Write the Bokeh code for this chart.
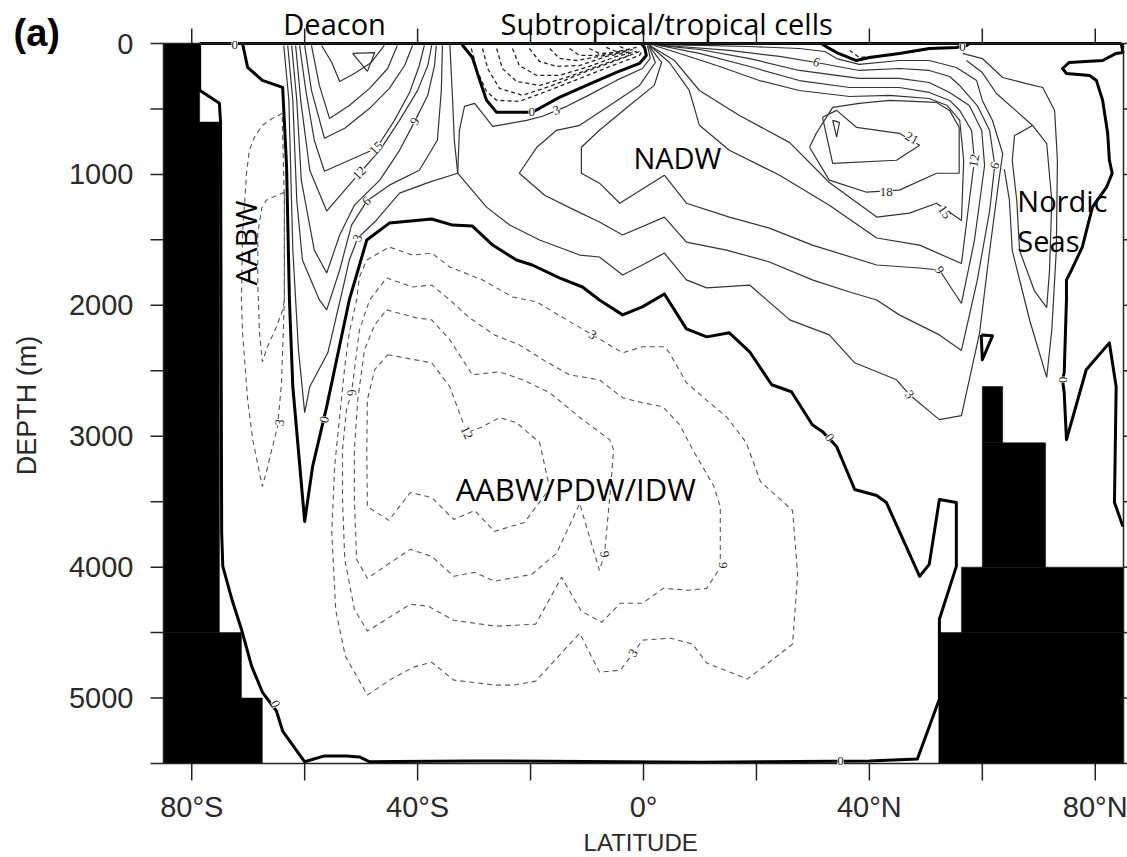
from bokeh.plotting import figure
from bokeh.models import Range1d, ColumnDataSource, LabelSet
from bokeh.core.properties import value
from bokeh.embed import file_html
from bokeh.resources import INLINE

# ---------------- data (latitude in degrees, depth in m) ----------------
xtick_values = [-80, -40, 0, 40, 80]
xtick_minor = [-60, -20, 20, 60]
xtick_labels = ["80°S", "40°S", "0°", "40°N", "80°N"]
ytick_values = [0, 1000, 2000, 3000, 4000, 5000]
ytick_minor = [500, 1500, 2500, 3500, 4500, 5500]
ytick_labels = ["0", "1000", "2000", "3000", "4000", "5000"]

# land (topography) blocks
land_left = [-85, -85, -85, -85, 60.0, 60.0, 56.3, 52.3]
land_right = [-78.6, -75.1, -71.2, -67.5, 63.6, 71.2, 85, 85]
land_top = [0, 600, 4500, 5000, 2620, 3050, 4000, 4500]
land_bottom = [600, 4500, 5000, 5500, 3050, 4000, 4500, 5500]

# zero streamlines
zero_main_lat = [-71.0, -70.1, -67.5, -63.9, -63.2, -62.7, -62.1, -60.0, -58.6, -56.1, -52.1, -49.0, -45.0,
                 -37.5, -33.8, -30.3, -26.7, -22.5, -19.7, -14.9, -10.8, -7.8, -3.7, -0.2, 3.7, 7.6, 11.2,
                 15.2, 18.8, 22.7, 26.2, 29.9, 31.7, 34.2, 37.4, 41.3, 43.0, 48.9, 50.6, 52.4, 55.4, 55.4,
                 52.4, 52.4, 48.5, 40.0, 10.0, -30.0, -44.0, -48.5, -50.3, -52.6, -56.5, -60.0, -63.9,
                 -65.0, -67.5, -69.4, -71.2, -72.9, -74.5, -74.7, -74.9, -75.1, -78.6, -78.6]
zero_main_depth = [0, 183, 282, 335, 945, 1959, 2622, 3651, 3232, 2774, 1959, 1501, 1372, 1341, 1387, 1395,
                   1540, 1654, 1692, 1791, 1860, 1959, 2073, 2012, 1913, 2180, 2241, 2210, 2355, 2607, 2660,
                   2912, 2965, 3079, 3407, 3453, 3506, 4070, 3979, 3483, 3506, 3994, 4398, 5008, 5465, 5480,
                   5490, 5480, 5485, 5487, 5450, 5442, 5442, 5487, 5252, 5099, 4954, 4756, 4474, 4245, 3994,
                   3735, 602, 457, 358, 0]
zero_stc_lat = [-32.2, -32.0, -30.3, -29.0, -27.8, -26.0, -22.0, -19.8, -18.4, -14.9, -10.1, -4.8, -0.7, 0.5, 0.2, -0.4]
zero_stc_depth = [0, 15, 107, 282, 434, 526, 526, 526, 495, 412, 320, 221, 152, 91, 30, 0]
zero_ntc_lat = [31.5, 32.6, 34.2, 37.7, 40.0, 45.3, 50.6, 55.4, 57.2, 57.7]
zero_ntc_depth = [0, 30, 69, 130, 107, 76, 38, 30, 15, 0]
zero_nordic_lat = [84.6, 84.9, 83.7, 81.3, 75.4, 74.2, 74.9, 79.0, 80.2, 81.3, 82.2, 82.5, 83.0, 82.0, 79.5,
                   77.7, 75.8, 74.9, 74.9, 74.5, 74.2, 74.5, 74.9, 78.4, 82.5, 83.7, 83.4, 84.9]
zero_nordic_depth = [0, 69, 76, 130, 145, 191, 229, 244, 282, 434, 686, 892, 991, 1098, 1250, 1555, 1730, 1806,
                     1959, 2515, 2569, 2668, 3026, 2492, 2287, 2622, 3506, 3689]
zero_tri_lat = [59.8, 61.8, 60.0, 59.8]
zero_tri_depth = [2226, 2233, 2416, 2226]
zero_surf_lat = [-78.6, 84.6]
zero_surf_depth = [0, 0]

# positive streamlines (Sv): Deacon cell, levels 3..27
deacon_lat = [
    [-63.7, -62.8, -62.1, -61.1, -60.0, -59.1, -55.9, -53.3, -52.1, -50.6, -47.6, -43.2, -37.9, -32.9, -33.5, -33.8, -34.3],
    [-63.0, -62.1, -61.4, -60.4, -57.4, -56.1, -53.8, -51.7, -49.0, -45.0, -39.7, -36.5, -35.8, -35.6],
    [-62.3, -61.4, -60.6, -58.3, -56.1, -53.8, -51.2, -46.7, -43.2, -40.5, -38.2, -37.0, -36.7],
    [-61.6, -60.7, -59.1, -56.1, -52.9, -50.3, -46.7, -43.2, -40.0, -38.2, -37.5],
    [-60.9, -59.8, -58.3, -56.5, -52.9, -47.3, -44.1, -41.4, -39.7, -38.8],
    [-60.0, -58.8, -56.5, -52.9, -48.5, -45.0, -42.3, -40.9],
    [-58.8, -57.4, -55.6, -52.1, -48.5, -45.3, -43.6],
    [-57.0, -55.2, -53.8, -51.2, -48.2, -45.9],
    [-51.5, -47.6, -48.9, -51.5],
]
deacon_depth = [
    [15, 434, 1578, 2340, 2820, 2622, 2363, 1883, 1654, 1486, 1364, 1143, 1059, 991, 739, 434, 0],
    [15, 434, 1197, 1654, 1959, 2035, 1730, 1387, 1204, 1082, 968, 739, 358, 15],
    [15, 434, 1044, 1578, 1753, 1463, 1235, 1044, 816, 595, 396, 168, 15],
    [15, 434, 968, 1280, 1120, 991, 816, 587, 358, 168, 15],
    [15, 358, 739, 976, 907, 800, 587, 373, 168, 15],
    [15, 358, 724, 648, 495, 343, 168, 15],
    [15, 320, 572, 473, 343, 191, 15],
    [15, 145, 290, 229, 145, 15],
    [76, 69, 213, 76],
]

# positive streamlines: NADW cell, levels 3, 6, 9, 12, 15 (from the equatorial surface), 18, 21, 24 closed
nadw_lat = [
    [0.7, 1.2, -0.2, -4.8, -10.1, -13.6, -17.9, -20.7, -26.7, -29.9, -31.7, -32.6, -32.9, -27.8, -23.7, -18.4,
     -11.3, -7.8, -3.7, -0.2, 3.7, 7.6, 11.2, 18.8, 25.9, 32.9, 37.4, 44.8, 47.1, 52.4,
     56.3, 59.5, 61.3, 62.7, 63.6, 61.8, 60.0, 59.0, 55.4, 50.6, 45.3, 38.2, 34.2, 32.1, 27.6, 18.8, 9.9, 2.8],
    [0.9, 2.1, -0.7, -6.0, -11.3, -15.4, -18.9, -22.0, -17.5, -12.2, -7.8, -3.7, 3.7, 7.6, 14.7, 22.3, 29.9,
     36.5, 41.3, 45.3, 52.4,
     56.3, 59.1, 61.3, 62.2, 61.3, 59.1, 56.0, 54.2, 50.6, 45.3, 38.2, 30.6, 24.1, 15.2, 6.4, 1.1],
    [0.9, 3.2, 1.9, -2.5, -7.8, -11.0, -11.0, -7.8, -4.2, 3.7, 7.6, 15.2, 22.3, 29.9, 41.3, 48.9, 52.4,
     56.3, 58.6, 60.4, 59.9, 57.7, 54.2, 50.6, 45.3, 38.2, 27.6, 18.8, 9.9, 2.8],
    [1.1, 4.6, 8.1, 9.9, 15.2, 24.1, 32.9, 41.3, 48.9,
     56.3, 57.7, 58.6, 58.1, 56.0, 54.2, 50.6, 45.3, 36.5, 27.6, 18.8, 9.9, 2.8],
    [1.1, 5.5, 9.9, 17.0, 25.9, 32.9, 41.3, 47.1, 51.9,
     56.3, 56.7, 56.0, 53.8, 50.6, 43.6, 36.5, 27.6, 20.5, 13.5, 6.4, 1.9],
    [29.4, 32.9, 39.5, 45.3, 51.9, 55.9, 55.9, 54.2, 51.9, 43.6, 38.2, 33.5, 30.6, 29.4],
    [31.7, 33.5, 44.8, 48.9, 45.3, 37.7, 34.2, 31.7],
    [33.5, 34.2, 34.7, 33.5],
]
nadw_depth = [
    [15, 114, 191, 282, 404, 480, 556, 587, 633, 457, 480, 663, 991, 1250, 1387, 1501, 1616, 1631, 1768, 1692,
     1601, 1806, 1867, 1845, 2111, 2226, 2439, 2569, 2683, 2873,
     2842, 2215, 1581, 1123, 840, 588, 435, 283, 183, 130, 130, 160, 115, 61, 38, 23, 15, 8],
    [15, 145, 320, 473, 625, 663, 793, 991, 1159, 1273, 1364, 1463, 1326, 1517, 1578, 1669, 1806, 1898, 1959,
     2073, 2226,
     2345, 1810, 1276, 932, 665, 474, 321, 252, 206, 191, 206, 145, 99, 53, 23, 8],
    [15, 145, 320, 473, 663, 793, 991, 1067, 1220, 1006, 1220, 1326, 1410, 1540, 1692, 1715, 1730,
     1986, 1505, 932, 665, 474, 374, 298, 267, 267, 206, 115, 46, 15],
    [15, 145, 358, 625, 816, 1006, 1235, 1486, 1540,
     1681, 1199, 894, 665, 512, 435, 374, 336, 336, 283, 176, 76, 15],
    [15, 130, 359, 550, 757, 1062, 1326, 1296, 1220,
     1352, 894, 588, 474, 420, 397, 405, 359, 283, 176, 76, 15],
    [793, 1044, 1136, 1120, 991, 991, 640, 511, 450, 434, 457, 488, 686, 793],
    [564, 915, 892, 777, 686, 640, 511, 564],
    [587, 716, 602, 587],
]

# Nordic Seas positive lines
nordic_lat = [
    [56.5, 60.0, 63.6, 67.8, 70.7, 72.8, 73.3, 73.1, 72.3, 71.4, 68.4, 65.3, 64.8, 63.9],
    [57.2, 60.0, 62.5, 68.9, 71.4, 72.3, 71.9, 71.4, 69.2, 66.6, 66.1, 65.3, 65.7, 68.9],
]
nordic_depth = [
    [76, 115, 260, 306, 336, 512, 894, 1581, 2192, 2551, 2116, 1581, 1199, 960],
    [130, 222, 382, 626, 764, 1199, 1734, 2017, 1887, 1581, 1199, 894, 703, 626],
]

# negative streamlines: subtropical cell arcs (dashed)
stc_lat = [
    [-30.5, -29.4, -27.8, -26.0, -22.0, -17.2, -11.3, -5.5, -0.7, -0.2],
    [-28.5, -27.6, -25.5, -21.4, -16.1, -10.1, -4.8, -0.7],
    [-26.0, -25.0, -22.5, -18.4, -13.1, -7.8, -2.5],
    [-23.2, -22.0, -18.9, -14.9, -9.6, -4.8, -1.2],
    [-20.2, -18.4, -15.4, -11.3, -6.6, -1.9],
    [-16.6, -14.9, -11.9, -7.8, -3.0],
    [-13.1, -11.3, -8.3, -4.2],
    [-9.6, -7.8, -4.8, -1.9],
    [-6.6, -4.8, -2.5],
    [-4.2, -3.0, -1.2],
]
stc_depth = [
    [38, 213, 366, 434, 442, 366, 267, 168, 91, 53],
    [38, 191, 343, 396, 320, 213, 130, 61],
    [38, 191, 290, 320, 252, 168, 91],
    [38, 168, 244, 244, 175, 99, 61],
    [38, 137, 175, 168, 99, 61],
    [38, 114, 130, 99, 61],
    [38, 91, 91, 61],
    [38, 76, 69, 46],
    [30, 61, 46],
    [23, 46, 30],
]
ntc_lat = [[36.5, 38.2, 42.3, 49.4, 51.9]]
ntc_depth = [[53, 107, 91, 53, 30]]

# negative streamlines: Antarctic bottom water near the shelf
aabw_lat = [
    [-64.0, -65.7, -67.5, -68.9, -69.8, -70.3, -70.6, -71.0, -71.2, -71.0, -70.1, -69.2, -67.5, -66.8, -65.7,
     -64.8, -64.1, -63.9, -63.6, -63.6, -64.0],
    [-63.6, -66.8, -67.6, -68.3, -68.3, -68.0, -67.5, -66.6, -65.0, -63.9, -63.6, -63.6],
]
aabw_depth = [
    [534, 572, 625, 716, 816, 991, 1197, 1448, 1959, 2210, 2721, 3026, 3384, 3277, 3079, 2927, 2591, 2340, 1959,
     1197, 534],
    [1136, 1197, 1258, 1448, 1829, 2210, 2431, 2317, 2165, 2035, 1959, 1136],
]

# negative streamlines: deep AABW/PDW/IDW cell (-3, -6, -9, -12)
deep_lat = [
    [-49.0, -45.0, -40.9, -37.5, -34.3, -28.5, -23.2, -18.9, -13.6, -9.0, -3.7, -0.2, 3.7, 4.6, 7.6, 11.7,
     14.7, 18.2, 20.7, 26.4, 27.3, 26.4, 18.4, 11.2, 8.7, 4.8, -0.2, -1.8, -4.1, -7.8, -11.3, -19.1, -23.0,
     -26.2, -33.6, -37.5, -40.7, -44.4, -48.9, -52.8, -54.5, -55.2, -54.7, -53.8, -52.9, -52.1, -50.8, -50.3,
     -49.0],
    [-45.5, -40.9, -37.5, -34.3, -30.8, -26.4, -22.0, -17.2, -13.1, -7.8, -3.7, -0.2, 3.4, 6.4, 8.7, 12.4,
     13.6, 13.6, 11.2, 8.0, 3.5, -0.2, -4.1, -7.4, -11.0, -14.5, -19.1, -26.2, -33.6, -38.1, -41.3, -48.9,
     -51.2, -52.9, -53.3, -53.3, -52.6, -51.7, -50.3, -48.5, -45.5],
    [-45.5, -40.2, -37.5, -34.3, -30.3, -25.5, -21.4, -16.6, -10.8, -6.0, -5.3, -5.7, -6.9, -7.8, -11.3,
     -15.4, -19.8, -26.4, -29.9, -33.6, -37.5, -41.3, -48.9, -50.8, -51.2, -51.2, -50.6, -49.4, -47.6, -45.5],
    [-45.3, -37.5, -34.3, -31.3, -28.5, -25.5, -22.5, -18.4, -16.6, -21.1, -26.4, -29.9, -33.6, -37.5, -41.3,
     -45.1, -48.9, -49.0, -48.9, -47.6, -45.3],
]
deep_depth = [
    [1654, 1555, 1616, 1601, 1707, 1806, 1936, 1974, 2111, 2226, 2363, 2317, 2317, 2363, 2591, 2744, 2851,
     3049, 3346, 3567, 4055, 4588, 4855, 4733, 4588, 4543, 4558, 4657, 4787, 4802, 4505, 4871, 4901, 4901,
     4863, 4726, 4764, 4848, 4977, 4680, 4329, 3735, 3232, 2851, 2469, 2210, 1959, 1783, 1654],
    [1791, 1860, 1845, 1959, 2096, 2226, 2302, 2431, 2531, 2569, 2706, 2744, 2774, 2912, 3102, 3377, 3537,
     4002, 4162, 4177, 4162, 4276, 4276, 4421, 4337, 4078, 4436, 4451, 4406, 4299, 4283, 4489, 4322, 3941,
     3483, 3102, 2797, 2668, 2187, 1959, 1791],
    [2035, 2096, 2111, 2264, 2531, 2508, 2569, 2668, 2873, 3026, 3102, 3331, 3902, 4025, 3514, 3895, 4055,
     4108, 4040, 4070, 3918, 3864, 4085, 3941, 3483, 3102, 2721, 2340, 2149, 2035],
    [2378, 2439, 2622, 2973, 2927, 2858, 2896, 3049, 3399, 3659, 3727, 3567, 3636, 3468, 3430, 3643, 3537,
     3102, 2721, 2492, 2378],
]

# contour labels
clab_lat = [-72.4, -19.8, -15.4, -50.6, -49.0, -50.3, -47.3, -40.5, -56.5, -64.4, -51.7, -9.0, -31.3, -6.9,
            14.0, -1.8, -65.2, 34.9, 32.9, 47.1, 52.4, 53.3, 43.0, 47.5, 58.6, 62.2, 30.6, 74.2, 56.5]
clab_depth = [15, 526, 511, 1486, 1204, 991, 800, 595, 2873, 2896, 2668, 2226, 2973, 3902,
              3986, 4657, 5045, 5480, 3010, 2683, 1730, 1288, 1136, 724, 894, 932, 145, 2569, 30]
clab_text = ["0", "0", "3", "3", "6", "12", "15", "9", "0", "3", "6", "3", "12", "9",
             "9", "3", "0", "0", "0", "3", "9", "15", "18", "21", "12", "6", "6", "0", "0"]
clab_angle = [0, 0, 20, 65, 40, 45, 45, 60, 75, 80, -85, -30, -65, -80,
              -90, 55, -65, 0, -55, -50, -60, -55, 0, -30, 80, 70, -20, 90, 0]

# region annotations
ann_text = ["NADW", "Nordic", "Seas", "Deacon", "Subtropical/tropical cells"]
ann_lat = [6.0, 66.2, 66.2, -54.7, 4.1]
ann_depth = [871, 1199, 1505, -153, -153]
ann_align = ["center", "left", "left", "center", "center"]

# ---------------- figure ----------------
PX_X = 170.0 / 960.0      # degrees per screen pixel
PX_Y = 5500.0 / 720.0     # metres per screen pixel

p = figure(width=1127, height=857,
           x_range=Range1d(-85 - 163 * PX_X, 85 + 4 * PX_X),
           y_range=Range1d(5500 + 94 * PX_Y, -43 * PX_Y),
           x_axis_type=None, y_axis_type=None, title_location=None,
           min_border=0, min_border_left=0, min_border_right=0, min_border_top=0, min_border_bottom=0,
           output_backend="svg", toolbar_location=None)
p.background_fill_color = "white"
p.border_fill_color = "white"
p.outline_line_color = None

AX = "#222222"
FONT = "Liberation Sans"

# land
p.quad(left=land_left, right=land_right, top=land_top, bottom=land_bottom,
       fill_color="black", line_color="black", line_width=0.5)

# negative (dashed)
p.multi_line(xs=stc_lat, ys=stc_depth, line_color="#222222", line_width=1.3, line_dash="4 3")
p.multi_line(xs=ntc_lat, ys=ntc_depth, line_color="#222222", line_width=1.3, line_dash="4 3")
p.multi_line(xs=aabw_lat, ys=aabw_depth, line_color="#555555", line_width=1.1, line_dash="5 4")
p.multi_line(xs=deep_lat, ys=deep_depth, line_color="#555555", line_width=1.1, line_dash="5 4")

# positive (solid thin)
p.multi_line(xs=deacon_lat, ys=deacon_depth, line_color="#333333", line_width=1.2)
p.multi_line(xs=nadw_lat, ys=nadw_depth, line_color="#333333", line_width=1.2)
p.multi_line(xs=nordic_lat, ys=nordic_depth, line_color="#333333", line_width=1.2)

# zero (thick)
p.multi_line(xs=[zero_main_lat, zero_stc_lat, zero_ntc_lat, zero_nordic_lat, zero_tri_lat, zero_surf_lat],
             ys=[zero_main_depth, zero_stc_depth, zero_ntc_depth, zero_nordic_depth, zero_tri_depth, zero_surf_depth],
             line_color="black", line_width=3, line_join="round")

# contour labels
src = ColumnDataSource(dict(x=clab_lat, y=clab_depth, text=clab_text, angle=clab_angle))
p.add_layout(LabelSet(x="x", y="y", text="text", angle="angle", angle_units="deg", source=src,
                      text_font="DejaVu Sans", text_font_size="13px", text_color="#222222",
                      text_align="center", text_baseline="middle",
                      background_fill_color="white"))

# frame box of the plotting domain
p.quad(left=[-85], right=[85], top=[0], bottom=[5500], fill_color=None, line_color=AX, line_width=1.5)

# ticks (outward), built from the tick arrays
yt_all = sorted(ytick_values + ytick_minor)
xt_all = sorted(xtick_values + xtick_minor)
p.segment(x0=[-85] * len(yt_all), y0=yt_all, x1=[-85 - 13 * PX_X] * len(yt_all), y1=yt_all,
          line_color=AX, line_width=1.5)
p.segment(x0=[85] * len(yt_all), y0=yt_all, x1=[85 + 13 * PX_X] * len(yt_all), y1=yt_all,
          line_color=AX, line_width=1.5)
p.segment(x0=xt_all, y0=[5500] * len(xt_all), x1=xt_all, y1=[5500 + 17 * PX_Y] * len(xt_all),
          line_color=AX, line_width=1.5)
p.segment(x0=xt_all, y0=[0] * len(xt_all), x1=xt_all, y1=[-15 * PX_Y] * len(xt_all),
          line_color=AX, line_width=1.5)

# tick labels
p.text(x=[-85 - 30 * PX_X] * len(ytick_values), y=ytick_values, text=ytick_labels,
       text_font=value(FONT), text_font_size="29px", text_color="#2a2a2a",
       text_align="right", text_baseline="middle")
p.text(x=xtick_values, y=[5500 + 43 * PX_Y] * len(xtick_values), text=xtick_labels,
       text_font=value(FONT), text_font_size="29px", text_color="#2a2a2a",
       text_align="center", text_baseline="middle")

# axis titles
p.text(x=[-85 - 137 * PX_X], y=[362 * PX_Y], text=["DEPTH (m)"], angle=[90], angle_units="deg",
       text_font=value(FONT), text_font_size="27px", text_color="#2a2a2a",
       text_align="center", text_baseline="middle")
p.text(x=[-0.5], y=[5500 + 79 * PX_Y], text=["LATITUDE"],
       text_font=value(FONT), text_font_size="24px", text_color="#2a2a2a",
       text_align="center", text_baseline="middle")

# region annotations
p.text(x=ann_lat, y=ann_depth, text=ann_text, text_align=ann_align,
       text_font=value("Open Sans"), text_font_size="29px", text_color="black",
       text_baseline="middle")
p.text(x=[-12.0], y=[3403], text=["AABW/PDW/IDW"], text_align="center",
       text_font=value("Open Sans"), text_font_size="31px", text_color="black",
       text_baseline="middle")
p.text(x=[-70.5], y=[1524], text=["AABW"], angle=[90], angle_units="deg",
       text_font=value("Open Sans"), text_font_size="30px", text_color="black",
       text_align="center", text_baseline="middle")
p.text(x=[-85 - 150 * PX_X], y=[-11 * PX_Y], text=["(a)"],
       text_font=value(FONT), text_font_style="bold", text_font_size="38px", text_color="black",
       text_align="left", text_baseline="middle")

open("out.html", "w").write(file_html(p, INLINE))
